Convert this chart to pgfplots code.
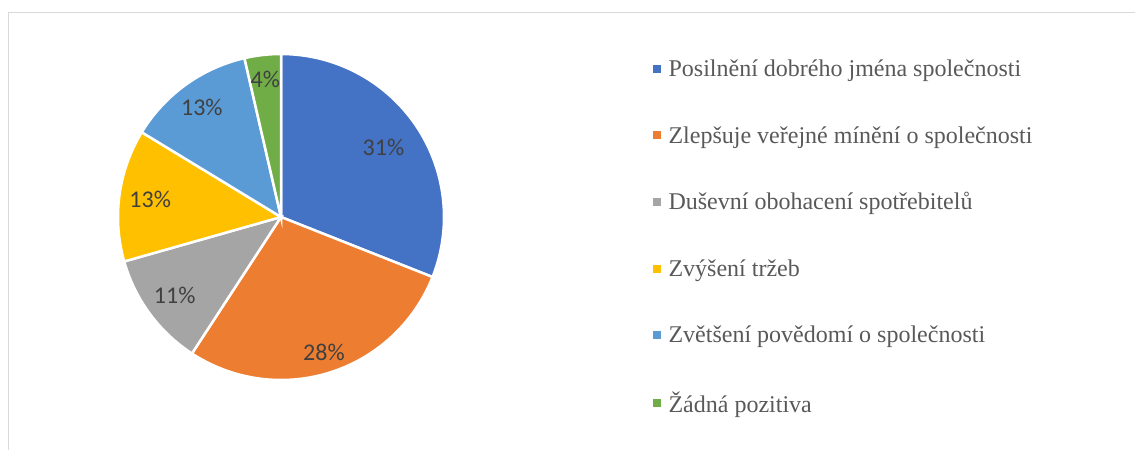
\documentclass[border=0pt]{standalone}
\usepackage{pgfplots}
\pgfplotsset{compat=1.18}
\usepgfplotslibrary{polar}
\usepackage{fontspec}
\setmainfont{Liberation Serif}
\newfontfamily\carlito{Carlito}
\definecolor{cblue}{HTML}{4472C4}
\definecolor{corange}{HTML}{ED7D31}
\definecolor{cgray}{HTML}{A5A5A5}
\definecolor{cyellow}{HTML}{FFC000}
\definecolor{clblue}{HTML}{5B9BD5}
\definecolor{cgreen}{HTML}{70AD47}
\definecolor{labtxt}{HTML}{404040}
\definecolor{legtxt}{HTML}{595959}
\definecolor{frame}{HTML}{D9D9D9}
% shares in percent
\def\vA{31}\def\vB{28.2}\def\vC{11.4}\def\vD{13.1}\def\vE{12.7}\def\vF{3.6}
\pgfmathsetmacro\cA{90-3.6*\vA}
\pgfmathsetmacro\cB{\cA-3.6*\vB}
\pgfmathsetmacro\cC{\cB-3.6*\vC}
\pgfmathsetmacro\cD{\cC-3.6*\vD}
\pgfmathsetmacro\cE{\cD-3.6*\vE}
\pgfmathsetmacro\cF{\cE-3.6*\vF}
\pgfmathsetmacro\mA{(90+\cA)/2}
\pgfmathsetmacro\mB{(\cA+\cB)/2}
\pgfmathsetmacro\mC{(\cB+\cC)/2}
\pgfmathsetmacro\mD{(\cC+\cD)/2}
\pgfmathsetmacro\mE{(\cD+\cE)/2}
\pgfmathsetmacro\mF{(\cE+\cF)/2}
\tikzset{pl/.style={font=\carlito\fontsize{24}{28}\selectfont, text=labtxt}}
\begin{document}
\begin{tikzpicture}
\useasboundingbox (0pt,0pt) rectangle (1135pt,450pt);
\draw[frame, line width=1.5pt] (8.5pt,0pt) -- (8.5pt,437.5pt) -- (1135pt,437.5pt);
\begin{polaraxis}[
  at={(281pt,233pt)}, anchor=origin,
  scale only axis, width=326pt, height=326pt,
  xmin=0, xmax=360, ymin=0, ymax=1,
  hide axis, clip=false,
  every axis plot/.append style={draw=white, line width=2.5pt, samples=90},
  legend image code/.code={\path[#1,draw=none] (0pt,-4pt) rectangle (8pt,4pt);},
  legend cell align=left,
  legend style={at={(1.63,0.994)}, anchor=north west, draw=none, fill=none,
    font=\fontsize{24}{28}\selectfont, text=legtxt, row sep=44pt,
    /tikz/every odd column/.append style={column sep=6pt}},
]
\addplot[fill=cblue, domain=\cA:90] {1} -- (axis cs:0,0) -- cycle;
\addlegendentry{Posilnění dobrého jména společnosti}
\addplot[fill=corange, domain=\cB:\cA] {1} -- (axis cs:0,0) -- cycle;
\addlegendentry{Zlepšuje veřejné mínění o společnosti}
\addplot[fill=cgray, domain=\cC:\cB] {1} -- (axis cs:0,0) -- cycle;
\addlegendentry{Duševní obohacení spotřebitelů}
\addplot[fill=cyellow, domain=\cD:\cC] {1} -- (axis cs:0,0) -- cycle;
\addlegendentry{Zvýšení tržeb}
\addplot[fill=clblue, domain=\cE:\cD] {1} -- (axis cs:0,0) -- cycle;
\addlegendentry{Zvětšení povědomí o společnosti}
\addplot[fill=cgreen, domain=\cF:\cE] {1} -- (axis cs:0,0) -- cycle;
\addlegendentry{Žádná pozitiva}
\node[pl] at (axis cs:\mA,0.76) {31\%};
\node[pl] at (axis cs:\mB,0.87) {28\%};
\node[pl] at (axis cs:\mC,0.81) {11\%};
\node[pl] at (axis cs:\mD,0.81) {13\%};
\node[pl] at (axis cs:\mE,0.83) {13\%};
\node[pl] at (axis cs:\mF,0.85) {4\%};
\end{polaraxis}
\end{tikzpicture}
\end{document}
